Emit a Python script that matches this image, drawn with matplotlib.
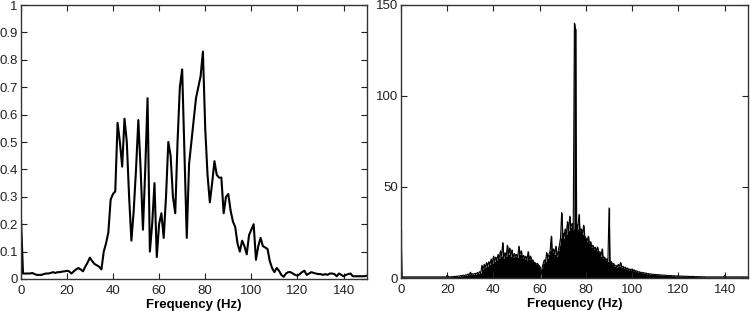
import numpy as np
import matplotlib
matplotlib.use("Agg")
import matplotlib.pyplot as plt

# left panel: normalised spectrum, 1 Hz steps
freq_left = np.arange(0, 151)
amp_left = [
    0.25, 0.02, 0.02, 0.02, 0.02, 0.022, 0.018, 0.015, 0.015, 0.015,
    0.018, 0.02, 0.02, 0.022, 0.025, 0.022, 0.025, 0.025, 0.027, 0.028,
    0.03, 0.028, 0.02, 0.028, 0.035, 0.04, 0.035, 0.028, 0.045, 0.06,
    0.078, 0.065, 0.055, 0.05, 0.045, 0.035, 0.1, 0.13, 0.17, 0.29,
    0.31, 0.32, 0.57, 0.5, 0.41, 0.585, 0.5, 0.3, 0.14, 0.25,
    0.4, 0.58, 0.4, 0.18, 0.4, 0.66, 0.1, 0.2, 0.35, 0.08,
    0.2, 0.24, 0.15, 0.3, 0.5, 0.45, 0.3, 0.24, 0.5, 0.7,
    0.765, 0.45, 0.15, 0.42, 0.5, 0.58, 0.66, 0.7, 0.74, 0.83,
    0.55, 0.38, 0.28, 0.35, 0.43, 0.38, 0.37, 0.37, 0.24, 0.3,
    0.31, 0.25, 0.21, 0.19, 0.13, 0.1, 0.14, 0.12, 0.09, 0.16,
    0.18, 0.2, 0.07, 0.12, 0.15, 0.12, 0.115, 0.11, 0.065, 0.04,
    0.025, 0.04, 0.03, 0.015, 0.008, 0.02, 0.025, 0.025, 0.02, 0.015,
    0.012, 0.018, 0.025, 0.03, 0.015, 0.02, 0.025, 0.022, 0.02, 0.018,
    0.018, 0.015, 0.018, 0.015, 0.02, 0.02, 0.018, 0.01, 0.02, 0.015,
    0.01, 0.015, 0.018, 0.02, 0.01, 0.01, 0.01, 0.01, 0.01, 0.01,
    0.012,
]

# right panel: raw spectrum peaks, 0.5 Hz steps
freq_right = np.arange(0, 301) * 0.5
amp_right = [
    27, 0.6, 0.6, 0.6, 0.6, 0.6, 0.6, 0.6, 0.6, 0.6, 0.6, 0.6, 0.6, 0.6, 0.6, 0.6, 0.6, 0.6, 0.6, 0.6,
    0.6, 0.6, 0.6, 0.6, 0.6, 0.6, 0.6, 0.6, 0.6, 0.6, 0.6, 0.6, 0.6, 0.6, 0.6, 0.6, 0.6, 0.6, 0.6, 0.6,
    1.5, 0.6, 0.7, 0.6, 0.8, 0.7, 0.9, 0.8, 1.0, 0.9, 1.2, 1.0, 1.4, 1.2, 1.6, 1.3, 1.8, 1.5, 2.2, 1.7,
    3.2, 1.9, 2.4, 2.0, 2.6, 2.2, 3.0, 2.5, 3.5, 2.8, 7.0, 5.0, 7.5, 6.0, 8.5, 6.5, 9.0, 7.5, 10.5, 8.0,
    12.0, 9.0, 11.5, 10.0, 13.0, 11.0, 15.0, 12.0, 19.5, 11.0, 14.0, 12.0, 18.0, 13.0, 16.5, 12.0, 15.5, 11.5, 13.5, 12.0,
    13.0, 11.5, 17.5, 13.0, 15.0, 11.0, 12.5, 10.5, 12.0, 10.0, 14.5, 10.5, 12.0, 9.5, 10.0, 8.5, 8.5, 7.5, 8.0, 7.0,
    6.5, 0.6, 5.5, 8.0, 10.0, 9.0, 14.0, 11.0, 13.0, 15.0, 23.0, 14.0, 16.0, 13.0, 17.5, 12.0, 15.0, 18.0, 22.0, 36.0,
    25.0, 22.0, 27.0, 24.0, 31.0, 26.0, 34.0, 28.0, 30.0, 27.0, 140.0, 137.0, 30.0, 27.0, 35.0, 26.0, 27.0, 24.0, 29.0, 23.0,
    22.0, 20.0, 23.0, 19.0, 20.0, 17.0, 18.0, 16.0, 17.0, 15.0, 17.0, 14.0, 14.5, 12.0, 16.0, 11.0, 11.5, 10.0, 10.5, 9.0,
    38.5, 8.5, 9.0, 7.5, 8.0, 6.5, 7.0, 6.0, 7.5, 6.5, 8.5, 6.0, 6.5, 5.5, 6.0, 5.0, 5.5, 4.5, 5.0, 4.5,
    5.0, 4.0, 4.5, 3.5, 4.0, 3.2, 3.5, 3.0, 3.2, 2.8, 3.0, 2.5, 2.8, 2.3, 2.5, 2.1, 2.3, 2.0, 2.1, 1.9,
    2.0, 1.8, 1.9, 1.7, 1.8, 1.6, 1.7, 1.5, 1.6, 1.4, 1.5, 1.3, 1.4, 1.3, 1.3, 1.2, 1.3, 1.1, 1.2, 1.1,
    1.2, 1.0, 1.1, 1.0, 1.1, 0.9, 1.0, 0.9, 1.0, 0.8, 0.9, 0.8, 0.9, 0.8, 0.8, 0.7, 0.8, 0.7, 0.7, 0.7,
    0.7, 0.6, 0.7, 0.6, 0.6, 0.6, 0.6, 0.6, 0.6, 0.6, 0.6, 0.6, 0.6, 0.6, 0.6, 0.6, 0.6, 0.6, 0.6, 0.6,
    1.5, 0.6, 0.6, 0.6, 0.6, 0.6, 0.6, 0.6, 0.6, 0.6, 0.6, 0.6, 0.6, 0.6, 0.6, 0.6, 0.6, 0.6, 0.6, 0.6,
    0.6,
]

x_ticks = [0, 20, 40, 60, 80, 100, 120, 140]
left_yticks = [0, 0.1, 0.2, 0.3, 0.4, 0.5, 0.6, 0.7, 0.8, 0.9, 1]
left_ylabels = ["0", "0.1", "0.2", "0.3", "0.4", "0.5", "0.6", "0.7", "0.8", "0.9", "1"]
right_yticks = [0, 50, 100, 150]

plt.rcParams['font.family'] = ['Liberation Sans', 'DejaVu Sans']

fig = plt.figure(figsize=(7.5, 3.11), dpi=100)
ax1 = fig.add_axes([0.0276, 0.1029, 0.4613, 0.881])
ax2 = fig.add_axes([0.5347, 0.1061, 0.4623, 0.878])


def matlab_style(ax):
    ax.set_xlim(0, 150)
    ax.set_xticks(x_ticks)
    ax.tick_params(direction='in', top=True, right=True, length=4, width=0.8,
                   labelsize=9.5, colors='#222222')
    ax.tick_params(axis='x', pad=4)
    ax.tick_params(axis='y', pad=2)
    for sp in ax.spines.values():
        sp.set_color('#333333')
        sp.set_linewidth(1.0)
    ax.set_xlabel('Frequency (Hz)', fontsize=9.5, fontweight='bold', labelpad=2)


ax1.plot(freq_left, amp_left, color='black', linewidth=1.5)
ax1.set_ylim(0, 1)
ax1.set_yticks(left_yticks)
ax1.set_yticklabels(left_ylabels)
matlab_style(ax1)

# solid mass under the peaks, plus the peak line itself for the thin spikes
ax2.fill_between(freq_right, 0, amp_right, step='mid', color='black', linewidth=0)
ax2.plot(freq_right, amp_right, color='black', linewidth=0.8)
ax2.set_ylim(0, 150)
ax2.set_yticks(right_yticks)
matlab_style(ax2)

fig.savefig('out.png', dpi=100)
